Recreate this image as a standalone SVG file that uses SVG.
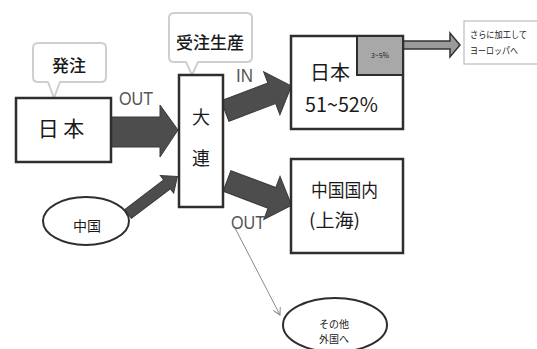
<svg xmlns="http://www.w3.org/2000/svg" width="537" height="349" viewBox="0 0 537 349">
<defs>
<style>
.box{fill:#fff;stroke:#2e2e2e;stroke-width:2.5}
.callout{fill:#fff;stroke:#cfcfcf;stroke-width:2;stroke-linejoin:round}
.bigarrow{fill:#4d4d4d;stroke:#3a3a3a;stroke-width:1}
.ell{fill:#fff;stroke:#2e2e2e;stroke-width:2}
.t{font-family:"Noto Sans CJK JP","Liberation Sans",sans-serif;fill:#1a1a1a}
.lbl{font-family:"Liberation Sans",sans-serif;fill:#555}
</style>
<marker id="open" viewBox="0 0 10 10" refX="9" refY="5" markerWidth="8" markerHeight="8" orient="auto" markerUnits="userSpaceOnUse">
<path d="M0,0 L9,5 L0,10" fill="none" stroke="#888" stroke-width="1.2"/>
</marker>
</defs>
<rect width="537" height="349" fill="#fff"/>

<g id="connectors">
<polygon class="bigarrow" points="111,117 160,117 160,105 178,130 160,157 160,147 111,147"/>
<polygon class="bigarrow" transform="translate(225,111) rotate(-20.7)" points="0,-11 50,-11 50,-23 71,0 50,23 50,11 0,11"/>
<polygon class="bigarrow" transform="translate(227,181) rotate(20.6)" points="0,-11 48,-11 48,-23 69,0 48,23 48,11 0,11"/>
<polygon class="bigarrow" transform="translate(128,214) rotate(-37.2)" points="0,-5.5 49,-5.5 49,-11 62,0 49,11 49,5.5 0,5.5"/>
<polygon points="403,41 450,41 450,33 460,45 450,57 450,49 403,49" fill="#9a9a9a" stroke="#333" stroke-width="1.5"/>
<line x1="235" y1="228" x2="280" y2="315" stroke="#888" stroke-width="1" marker-end="url(#open)"/>
<text class="lbl" x="119" y="105" font-size="18" textLength="34" lengthAdjust="spacingAndGlyphs">OUT</text>
<text class="lbl" x="236" y="82" font-size="18" textLength="17" lengthAdjust="spacingAndGlyphs">IN</text>
<text class="lbl" x="231" y="229" font-size="18" textLength="34" lengthAdjust="spacingAndGlyphs">OUT</text>
</g>

<g id="callout-hatchu">
<path class="callout" d="M38,43 H101 Q106,43 106,48 V77 Q106,82 101,82 H60 L54,98 L48,82 H38 Q33,82 33,77 V48 Q33,43 38,43 Z"/>
<text class="t" x="69" y="72" font-size="17" font-weight="500" text-anchor="middle">発注</text>
</g>

<g id="callout-juchu">
<path class="callout" d="M174,13 H247 Q252,13 252,18 V57 Q252,62 247,62 H198 L192,75 L186,62 H174 Q169,62 169,57 V18 Q169,13 174,13 Z"/>
<text class="t" x="210" y="49" font-size="17" font-weight="500" text-anchor="middle">受注生産</text>
</g>

<g id="node-nihon">
<rect class="box" x="16" y="98" width="95" height="64"/>
<text class="t" x="61" y="136" font-size="21" text-anchor="middle">日 本</text>
</g>

<g id="node-dalian">
<rect class="box" x="179" y="75" width="44" height="132" stroke-width="2"/>
<text class="t" x="201" y="124" font-size="18" text-anchor="middle">大</text>
<text class="t" x="201" y="165" font-size="18" text-anchor="middle">連</text>
</g>

<g id="node-japan-market">
<rect class="box" x="291" y="36" width="112" height="93"/>
<rect x="357" y="36" width="46" height="39" fill="#a8a8a8" stroke="#2e2e2e" stroke-width="2"/>
<text class="t" x="380" y="58" font-size="7" text-anchor="middle" fill="#444">3~5%</text>
<text class="t" x="310" y="80" font-size="20">日本</text>
<text class="t" x="305" y="112" font-size="20" textLength="73" lengthAdjust="spacingAndGlyphs">51~52%</text>
</g>

<g id="node-europe">
<rect x="464" y="21" width="80" height="43" fill="#fff" stroke="#bdbdbd" stroke-width="1.2"/>
<text class="t" x="470" y="38" font-size="9" textLength="57" lengthAdjust="spacingAndGlyphs">さらに加工して</text>
<text class="t" x="470" y="54" font-size="9" textLength="48" lengthAdjust="spacingAndGlyphs">ヨーロッパへ</text>
</g>

<g id="node-china-domestic">
<rect class="box" x="291" y="159" width="112" height="94"/>
<text class="t" x="311" y="197" font-size="18" textLength="67" lengthAdjust="spacingAndGlyphs">中国国内</text>
<text class="t" x="309" y="227" font-size="18" textLength="51" lengthAdjust="spacingAndGlyphs">(上海)</text>
</g>

<g id="node-china">
<ellipse class="ell" cx="86" cy="221" rx="43" ry="24"/>
<text class="t" x="87" y="231" font-size="14" text-anchor="middle" fill="#444">中国</text>
</g>

<g id="node-other">
<ellipse class="ell" cx="335" cy="325" rx="52" ry="27"/>
<text class="t" x="334" y="328" font-size="10" text-anchor="middle" fill="#333">その他</text>
<text class="t" x="334" y="343" font-size="10" text-anchor="middle" fill="#333">外国へ</text>
</g>
</svg>
